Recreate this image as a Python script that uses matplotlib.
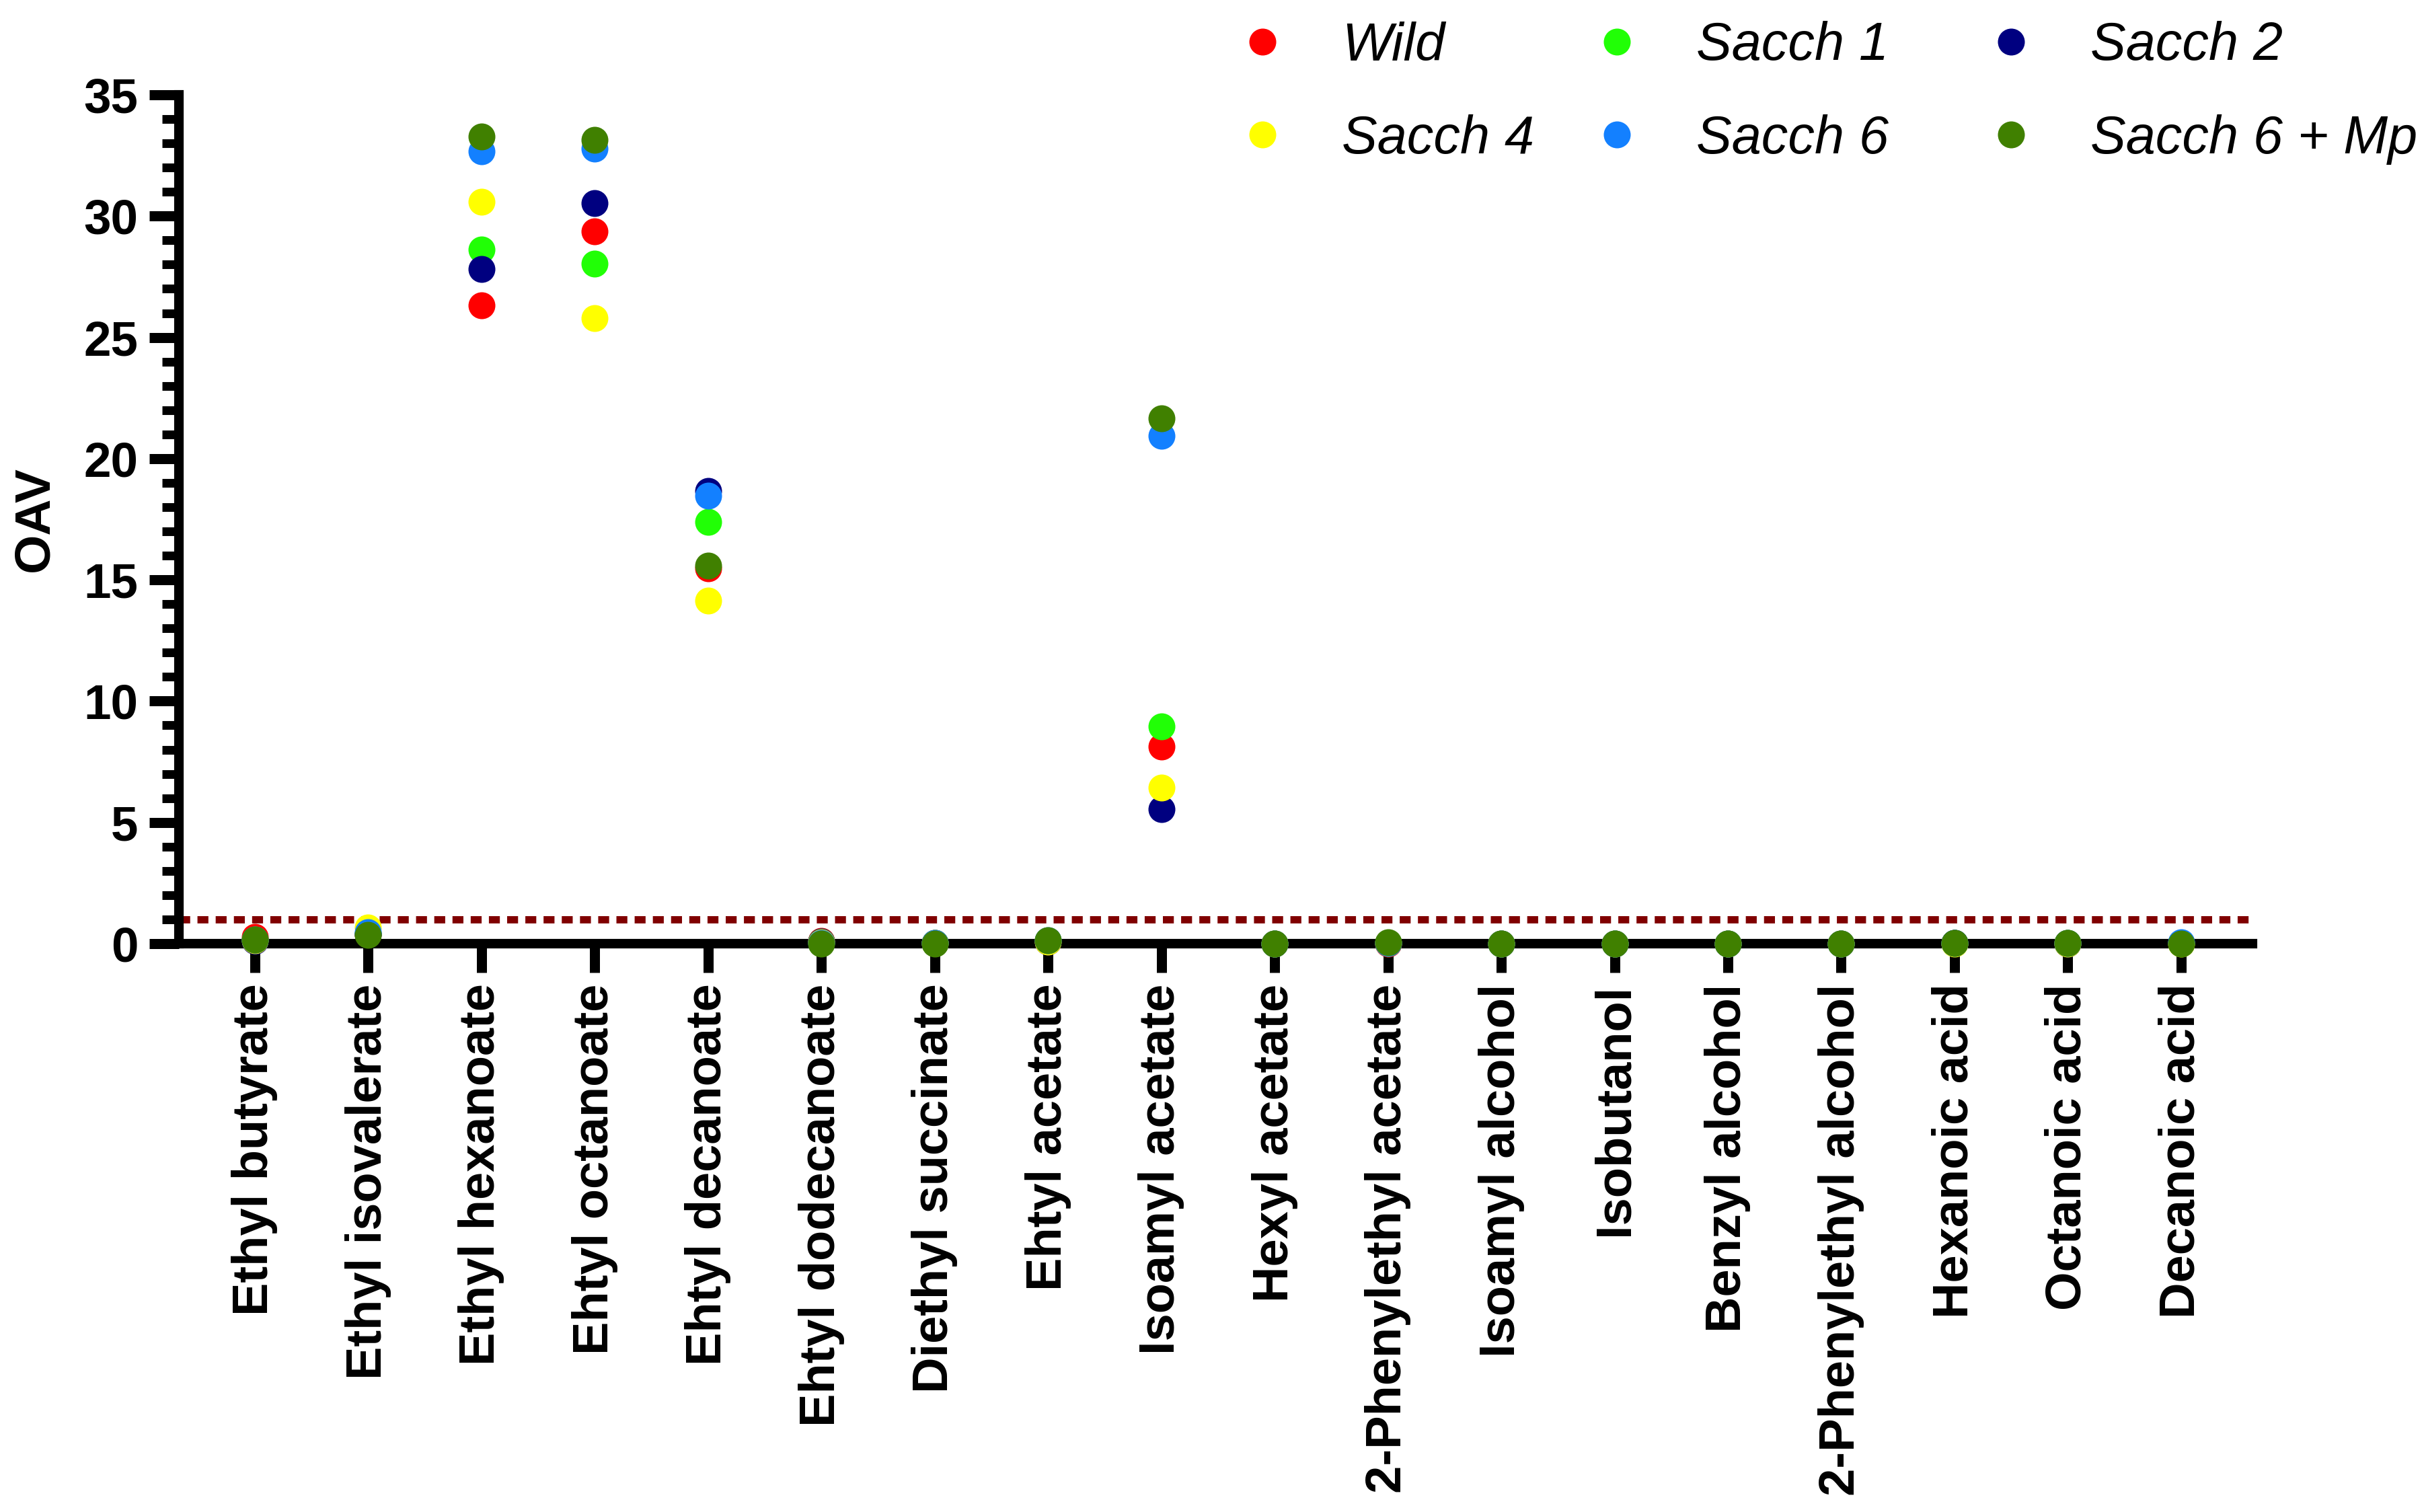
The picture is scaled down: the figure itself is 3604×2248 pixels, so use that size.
import numpy as np
import matplotlib
matplotlib.use("Agg")
import matplotlib.pyplot as plt

# 数据
compounds = ["Ethyl butyrate", "Ethyl isovalerate", "Ethyl hexanoate", "Ehtyl octanoate",
             "Ehtyl decanoate", "Ehtyl dodecanoate", "Diethyl succinate", "Ehtyl acetate",
             "Isoamyl acetate", "Hexyl acetate", "2-Phenylethyl acetate", "Isoamyl alcohol",
             "Isobutanol", "Benzyl alcohol", "2-Phenylethyl alcohol", "Hexanoic acid",
             "Octanoic acid", "Decanoic acid"]

wild = [0.28, 0.40, 26.33, 29.37, 15.47, 0.11, 0.03, 0.12, 8.13, 0.01, 0.00, 0.01, 0.01, 0.01, 0.01, 0.02, 0.02, 0.02]
sacch1 = [0.18, 0.42, 28.62, 28.04, 17.39, 0.08, 0.02, 0.12, 8.96, 0.01, 0.03, 0.01, 0.01, 0.01, 0.01, 0.03, 0.02, 0.02]
sacch2 = [0.10, 0.40, 27.83, 30.54, 18.66, 0.07, 0.02, 0.09, 5.55, 0.01, 0.02, 0.01, 0.01, 0.01, 0.01, 0.02, 0.01, 0.02]
sacch4 = [0.15, 0.67, 30.58, 25.79, 14.14, 0.05, 0.02, 0.08, 6.43, 0.01, 0.02, 0.01, 0.01, 0.01, 0.01, 0.01, 0.00, 0.01]
sacch6 = [0.16, 0.47, 32.68, 32.78, 18.47, 0.04, 0.02, 0.13, 20.94, 0.01, 0.04, 0.01, 0.01, 0.01, 0.01, 0.03, 0.02, 0.05]
sacch6_mp = [0.17, 0.37, 33.28, 33.14, 15.58, 0.01, 0.00, 0.14, 21.66, 0.00, 0.06, 0.00, 0.00, 0.00, 0.01, 0.04, 0.03, 0.01]

series_names = ["Wild", "Sacch 1", "Sacch 2", "Sacch 4", "Sacch 6", "Sacch 6 + Mp"]
series_values = [wild, sacch1, sacch2, sacch4, sacch6, sacch6_mp]
series_colors = ["#FF0000", "#21FF06", "#000080", "#FFFF00", "#1380FF", "#408000"]
threshold = 1

plt.rcParams['font.family'] = ['Liberation Sans', 'DejaVu Sans']

fig = plt.figure(figsize=(3604 / 300, 2248 / 300), dpi=300)
ax = fig.add_axes([266 / 3604, 1 - 1403 / 2248, (3349 - 266) / 3604, (1403 - 141) / 2248])

x = np.arange(len(compounds))
handles = {}
for name, vals, col in zip(series_names, series_values, series_colors):
    h, = ax.plot(x, vals, 'o', ms=9.6, color=col, mec='none', clip_on=False, zorder=5, label=name)
    handles[name] = h

# OAV = 1 阈值线
ax.axhline(threshold, color="#800000", lw=2.6, dashes=(1.5, 1.0), zorder=2)

ax.set_xlim(-0.67, 17.63)
ax.set_ylim(0, 35)
ax.set_yticks(np.arange(0, 36, 5))
ax.set_yticks(np.arange(0, 36, 1), minor=True)
ax.set_xticks(x)
ax.set_xticklabels(compounds, rotation=90, fontsize=17.8, fontweight='bold')
for lab in ax.get_yticklabels():
    lab.set_fontsize(17.5)
    lab.set_fontweight('bold')

ax.spines['top'].set_visible(False)
ax.spines['right'].set_visible(False)
for s in ['left', 'bottom']:
    ax.spines[s].set_linewidth(3.4)
    ax.spines[s].set_capstyle('projecting')

ax.tick_params(axis='y', which='major', length=10.6, width=3.6, pad=4)
ax.tick_params(axis='y', which='minor', length=6, width=3.1)
ax.tick_params(axis='x', which='major', length=10.3, width=3.6, pad=4)

ax.set_ylabel("OAV", fontsize=18, fontweight='bold', labelpad=9)

# 图例 每列单独放
cols = [["Wild", "Sacch 4"], ["Sacch 1", "Sacch 6"], ["Sacch 2", "Sacch 6 + Mp"]]
col_left = [1837, 2364, 2950]
for names, xl in zip(cols, col_left):
    fig.legend([handles[n] for n in names], names, loc='upper left',
               bbox_to_anchor=(xl / 3604, 0.986), frameon=False, ncol=1,
               prop={'size': 19, 'style': 'italic'}, handlelength=1.0,
               handletextpad=1.0, labelspacing=0.8, borderpad=0, borderaxespad=0)

fig.savefig("out.png", dpi=300)
